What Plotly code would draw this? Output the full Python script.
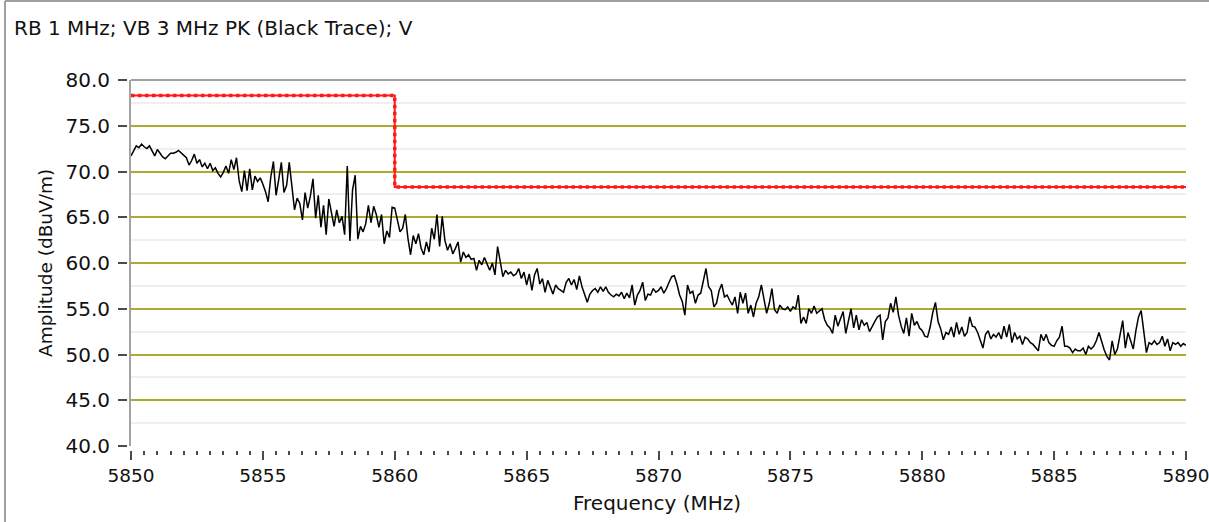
import plotly.graph_objects as go

# black trace, peak detector, one reading per 0.1 MHz from 5850 to 5890 MHz
trace_db = [
    71.7, 72.2, 72.8, 72.6, 73.0, 72.7, 72.5, 72.8, 72.3, 71.7,
    72.4, 72.0, 71.6, 71.4, 71.7, 72.0, 72.0, 72.1, 72.3, 72.0,
    71.8, 71.5, 70.7, 71.2, 71.9, 70.9, 71.3, 70.5, 70.9, 70.3,
    70.9, 70.1, 70.4, 69.8, 69.4, 69.9, 70.6, 69.8, 71.3, 70.2,
    71.5, 69.0, 67.8, 70.1, 67.9, 70.3, 68.0, 69.5, 68.9, 69.3,
    68.6, 67.8, 66.7, 69.4, 71.1, 67.4, 69.1, 71.0, 67.7, 68.5,
    71.0, 68.5, 65.8, 67.1, 66.5, 64.7, 67.7, 66.0, 67.3, 69.2,
    64.9, 67.4, 63.9, 66.3, 63.1, 67.0, 65.5, 64.0, 65.8, 64.4,
    65.1, 63.1, 70.6, 62.4, 68.0, 69.6, 62.6, 64.0, 63.4, 64.3,
    66.3, 64.4, 66.2, 65.3, 63.9, 65.3, 62.1, 63.5, 62.8, 66.1,
    66.0, 64.5, 63.4, 63.8, 65.3, 62.7, 60.9, 63.0, 62.1, 63.2,
    61.6, 60.9, 62.3, 61.2, 63.8, 62.6, 65.3, 61.8, 65.1, 62.5,
    61.4, 62.1, 61.0, 61.6, 62.3, 60.1, 61.2, 60.6, 60.9, 60.4,
    60.5, 59.2, 60.3, 59.8, 60.6, 59.9, 59.2, 60.0, 58.7, 61.8,
    60.0, 58.5, 59.2, 58.8, 59.0, 58.6, 58.8, 59.4, 58.3, 59.0,
    57.6, 58.8, 57.0, 58.7, 59.4, 57.7, 58.3, 56.8, 58.1, 57.4,
    56.6, 57.6, 57.2, 57.0, 56.8, 57.9, 58.3, 57.6, 58.2, 57.1,
    58.6, 57.4, 56.5, 55.7, 56.6, 57.0, 57.2, 56.8, 57.4, 56.9,
    57.4, 56.8, 56.5, 56.3, 56.6, 56.4, 56.8, 56.1, 56.7, 56.2,
    57.6, 55.4, 56.5, 57.0, 57.9, 55.9, 56.6, 56.5, 57.2, 56.8,
    57.0, 57.4, 56.7, 57.2, 57.9, 58.5, 58.6, 57.7, 56.5, 55.8,
    54.3, 57.6, 56.7, 56.9, 55.6, 56.5, 56.7, 57.9, 59.4, 57.4,
    57.0, 55.2, 55.6, 57.0, 57.7, 56.3, 56.5, 55.9, 55.4, 56.3,
    54.5, 56.8, 55.6, 56.7, 54.5, 55.4, 54.1, 55.6, 56.3, 57.6,
    55.9, 54.5, 55.6, 57.2, 54.9, 54.5, 55.4, 55.0, 54.9, 55.2,
    54.7, 55.2, 55.0, 56.5, 53.4, 54.1, 53.4, 55.0, 54.5, 55.3,
    54.5, 54.7, 55.0, 53.8, 53.2, 52.9, 52.3, 54.3, 53.1, 53.9,
    54.7, 52.3, 53.8, 55.0, 52.9, 54.3, 52.7, 53.8, 53.2, 53.5,
    52.5, 53.1, 53.6, 54.1, 54.3, 51.6, 53.6, 54.0, 55.6, 54.6,
    56.3, 54.3, 53.1, 52.3, 54.0, 52.0, 54.5, 53.2, 53.6, 52.9,
    52.6, 52.0, 51.9, 53.0, 54.6, 55.7, 53.6, 52.8, 51.6, 52.4,
    52.2, 53.0, 51.9, 53.5, 52.2, 53.0, 52.0, 52.4, 54.1, 53.1,
    53.0, 52.4, 51.5, 50.7, 52.2, 52.6, 51.7, 52.2, 51.9, 52.4,
    51.7, 53.1, 51.9, 53.3, 51.3, 52.4, 51.7, 52.0, 51.1, 51.9,
    51.7, 51.3, 51.1, 50.7, 50.4, 52.2, 51.5, 52.2, 51.3, 51.0,
    50.9, 51.5, 51.9, 53.1, 50.9, 50.9, 50.7, 50.2, 50.6, 50.4,
    50.4, 50.7, 50.0, 50.9, 50.6, 50.9, 51.5, 52.4, 51.4, 50.5,
    49.8, 49.4, 51.5, 50.0, 50.6, 52.2, 53.7, 50.7, 52.4, 51.5,
    50.6, 52.6, 54.1, 54.8, 52.2, 50.2, 51.3, 51.1, 51.5, 51.1,
    51.3, 52.0, 50.9, 51.7, 50.4, 51.3, 51.1, 51.3, 50.9, 51.2,
    51.0,
]
freq_mhz = [round(5850 + 0.1 * i, 1) for i in range(len(trace_db))]

# limit line (red dotted)
limit_freq = [5850, 5860, 5890]
limit_db = [78.3, 68.3, 68.3]

x_ticks = [5850, 5855, 5860, 5865, 5870, 5875, 5880, 5885, 5890]
y_ticks = [40, 45, 50, 55, 60, 65, 70, 75, 80]
y_grid = [45, 50, 55, 60, 65, 70, 75]
y_minor = [42.5, 47.5, 52.5, 57.5, 62.5, 67.5, 72.5, 77.5]

title_text = "RB 1 MHz; VB 3 MHz PK (Black Trace); V"
x_title = "Frequency (MHz)"
y_title = "Amplitude (dBuV/m)"

FONT = "DejaVu Sans"
TICK_COLOR = "#4a4a4a"

fig = go.Figure()
# solid core of the limit line sits on the labelled axis, so that axis gets drawn
fig.add_trace(go.Scatter(x=limit_freq, y=limit_db, mode="lines", yaxis="y",
                         line=dict(color="#ff1a1a", width=2, shape="hv"), name="limit"))
fig.add_trace(go.Scatter(x=freq_mhz, y=trace_db, mode="lines", yaxis="y2",
                         line=dict(color="black", width=1.5), name="PK"))
fig.add_trace(go.Scatter(x=limit_freq, y=limit_db, mode="lines", yaxis="y2",
                         line=dict(color="#ff1a1a", width=3.5, dash="dot", shape="hv"),
                         name="limit dots"))

W, H = 1209, 522
L, R, T, B = 127, 23, 80, 72
pw, ph = W - L - R, H - T - B

fig.update_layout(
    width=W, height=H,
    margin=dict(l=L, r=R, t=T, b=B, pad=0, autoexpand=False),
    paper_bgcolor="white", plot_bgcolor="white",
    showlegend=False,
    font=dict(family=FONT, size=20, color="#111111"),
    xaxis=dict(
        range=[5850, 5890], domain=[4 / pw, 1],
        anchor="free", position=0, automargin=False,
        tickvals=x_ticks, ticktext=[str(v) for v in x_ticks],
        ticks="outside", ticklen=9, tickwidth=2, tickcolor=TICK_COLOR,
        minor=dict(dtick=0.5, ticks="outside", ticklen=4, tickwidth=2, tickcolor=TICK_COLOR),
        showgrid=False, zeroline=False, showline=False,
        ticklabeloverflow="allow",
        tickfont=dict(size=18.5),
    ),
    yaxis=dict(
        range=[40, 80], domain=[4 / ph, 1],
        anchor="free", position=0, automargin=False,
        tickvals=y_ticks, ticktext=["%.1f" % v for v in y_ticks],
        ticks="outside", ticklen=9, tickwidth=2, tickcolor=TICK_COLOR,
        ticklabelstandoff=4, ticklabeloverflow="allow",
        showgrid=False, zeroline=False, showline=False,
        tickfont=dict(size=20),
    ),
    yaxis2=dict(
        range=[40, 80], overlaying="y", anchor="x", automargin=False,
        tickvals=y_grid, showticklabels=False, ticks="",
        showgrid=True, gridcolor="#abab2e", gridwidth=2,
        minor=dict(tickvals=y_minor, showgrid=True, gridcolor="#efefef", gridwidth=2, ticks=""),
        zeroline=False, showline=True, linecolor="#a3a3a3", linewidth=2,
    ),
    shapes=[
        # top edge of plot box
        dict(type="line", xref="paper", yref="paper", x0=4 / pw, x1=1, y0=1, y1=1,
             line=dict(color="#a3a3a3", width=2)),
        # panel frame, top and left
        dict(type="line", xref="paper", yref="paper", x0=(5 - L) / pw, x1=(W - L) / pw,
             y0=1 + (T - 1) / ph, y1=1 + (T - 1) / ph, line=dict(color="#a0a0a0", width=2)),
        dict(type="line", xref="paper", yref="paper", x0=(5 - L) / pw, x1=(5 - L) / pw,
             y0=-B / ph, y1=1 + (T - 1) / ph, line=dict(color="#a0a0a0", width=2)),
    ],
    annotations=[
        dict(text=title_text, xref="paper", yref="paper", x=(12 - L) / pw, y=1 + (T - 28) / ph,
             xanchor="left", yanchor="middle", showarrow=False, font=dict(size=20)),
        dict(text=x_title, xref="paper", yref="paper", x=(657 - L) / pw, y=-(503 - (H - B)) / ph,
             xanchor="center", yanchor="middle", showarrow=False, font=dict(size=20)),
        dict(text=y_title, xref="paper", yref="paper", x=(45 - L) / pw, y=(H - B - 263) / ph,
             xanchor="center", yanchor="middle", textangle=-90, showarrow=False,
             font=dict(size=18.5)),
    ],
)

fig.write_html("out.html", config={"displayModeBar": False},
               post_script="document.body.style.margin='0';")
